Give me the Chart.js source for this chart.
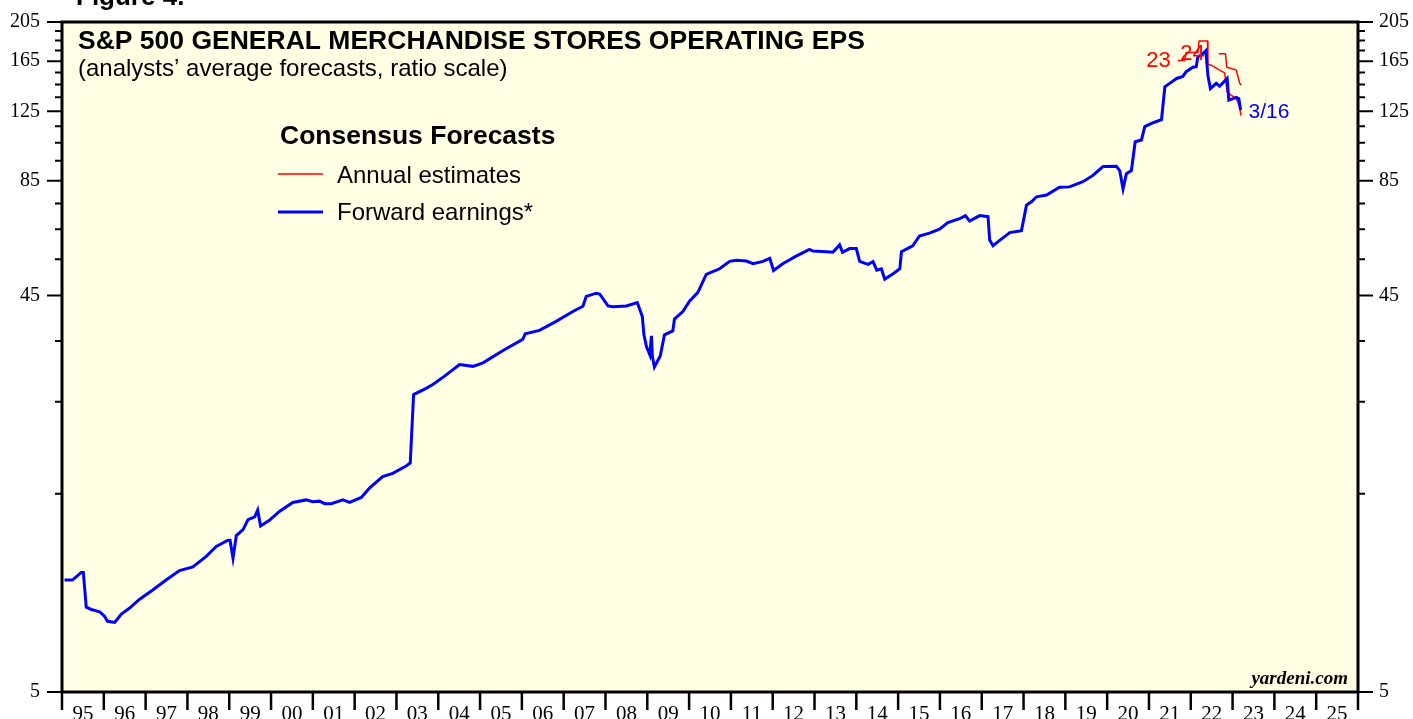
<!DOCTYPE html>
<html>
<head>
<meta charset="utf-8">
<script src="https://cdn.jsdelivr.net/npm/chart.js@4.4.0/dist/chart.umd.min.js"></script>
<style>
  html, body { margin: 0; padding: 0; background: #fff; }
  #wrap { width: 1413px; height: 719px; position: relative; overflow: hidden; }
</style>
</head>
<body>
<div id="wrap"><canvas id="chart" width="1413" height="719"></canvas></div>
<script>
// forward earnings (weekly)
const fwdYears = [
  1995.06, 1995.25, 1995.46, 1995.51, 1995.58, 1995.70, 1995.90, 1996.02, 1996.09, 1996.26,
  1996.42, 1996.61, 1996.85, 1997.17, 1997.49, 1997.81, 1998.13, 1998.45, 1998.69, 1998.97,
  1999.02, 1999.09, 1999.17, 1999.33, 1999.45, 1999.61, 1999.68, 1999.75, 1999.96, 2000.20,
  2000.52, 2000.84, 2001.00, 2001.16, 2001.28, 2001.44, 2001.72, 2001.88, 2002.16, 2002.36,
  2002.67, 2002.91, 2003.23, 2003.33, 2003.41, 2003.71, 2003.87, 2004.15, 2004.51, 2004.83,
  2005.07, 2005.55, 2006.02, 2006.08, 2006.42, 2006.82, 2007.22, 2007.46, 2007.54, 2007.78,
  2007.86, 2008.06, 2008.18, 2008.50, 2008.76, 2008.88, 2008.92, 2008.98, 2009.06, 2009.10,
  2009.12, 2009.17, 2009.31, 2009.41, 2009.61, 2009.65, 2009.85, 2010.01, 2010.21, 2010.41,
  2010.73, 2010.97, 2011.13, 2011.37, 2011.53, 2011.77, 2011.93, 2012.02, 2012.24, 2012.56,
  2012.88, 2012.96, 2013.28, 2013.44, 2013.60, 2013.67, 2013.84, 2014.00, 2014.08, 2014.28,
  2014.40, 2014.49, 2014.60, 2014.68, 2014.88, 2015.04, 2015.08, 2015.35, 2015.51, 2015.75,
  2015.99, 2016.19, 2016.47, 2016.61, 2016.71, 2016.95, 2017.15, 2017.19, 2017.27, 2017.39,
  2017.67, 2017.95, 2018.07, 2018.19, 2018.31, 2018.55, 2018.86, 2019.10, 2019.42, 2019.66,
  2019.90, 2020.22, 2020.30, 2020.38, 2020.46, 2020.58, 2020.67, 2020.82, 2020.90, 2021.10,
  2021.30, 2021.38, 2021.57, 2021.66, 2021.81, 2021.89, 2022.05, 2022.13, 2022.17, 2022.25,
  2022.36, 2022.41, 2022.47, 2022.61, 2022.69, 2022.87, 2022.91, 2023.09, 2023.15, 2023.19
];
const fwdValues = [
  9.3, 9.3, 9.7, 9.7, 8.0, 7.9, 7.8, 7.6, 7.4, 7.35,
  7.7, 7.95, 8.35, 8.8, 9.3, 9.8, 10.0, 10.6, 11.2, 11.6,
  11.6, 10.5, 11.9, 12.3, 13.0, 13.2, 13.7, 12.55, 12.95, 13.6,
  14.3, 14.5, 14.35, 14.4, 14.2, 14.2, 14.5, 14.3, 14.7, 15.5,
  16.5, 16.8, 17.5, 17.8, 26.0, 26.9, 27.5, 28.8, 30.7, 30.4,
  31.0, 33.2, 35.3, 36.4, 37.1, 39.0, 41.2, 42.4, 44.8, 45.6,
  45.4, 42.5, 42.3, 42.5, 43.3, 40.1, 36.2, 33.9, 32.4, 36.0,
  32.2, 30.3, 32.2, 36.2, 37.0, 39.5, 41.2, 43.6, 45.8, 50.6,
  52.2, 54.4, 54.7, 54.5, 53.7, 54.4, 55.3, 51.7, 53.7, 56.0,
  58.1, 57.6, 57.4, 57.2, 59.6, 57.2, 58.4, 58.4, 54.4, 53.5,
  54.3, 51.8, 52.2, 49.3, 50.8, 52.2, 57.4, 59.3, 62.6, 63.6,
  65.0, 67.4, 68.9, 70.1, 68.0, 70.1, 69.7, 61.2, 59.3, 60.7,
  63.8, 64.5, 74.3, 75.7, 77.8, 78.6, 82.0, 82.2, 84.6, 87.6,
  92.0, 92.2, 90.0, 81.3, 88.4, 90.0, 105.6, 106.6, 114.8, 117.3,
  119.3, 143.2, 147.7, 149.9, 151.6, 155.7, 159.5, 160.0, 169.0, 170.7,
  174.9, 152.4, 141.7, 145.9, 143.6, 149.9, 133.0, 135.0, 134.0, 125.9
];

// annual estimates
const est23Years = [2021.69, 2021.85, 2021.89, 2022.17, 2022.20, 2022.40, 2022.41, 2022.49, 2022.69, 2022.81, 2022.87, 2022.95, 2023.09, 2023.17, 2023.20];
const est23Values = [165.5, 165.5, 173.0, 173.0, 184.5, 184.5, 162.0, 161.4, 157.0, 154.6, 139.0, 137.0, 134.0, 128.0, 122.0];
const est24Years = [2022.67, 2022.83, 2022.86, 2023.09, 2023.17, 2023.21];
const est24Values = [172.0, 172.0, 159.5, 157.0, 145.9, 144.5];

const yearLabels = ['95', '96', '97', '98', '99', '00', '01', '02', '03', '04', '05', '06', '07', '08', '09',
  '10', '11', '12', '13', '14', '15', '16', '17', '18', '19', '20', '21', '22', '23', '24', '25'];
const majorTicks = [5, 45, 85, 125, 165, 205];
const minorTicks = [15, 25, 35, 55, 65, 75, 95, 105, 115, 135, 145, 155, 175, 185, 195];

const sans = '"Liberation Sans", Arial, sans-serif';
const serif = '"Liberation Serif", "Times New Roman", serif';

const toPoints = (xs, ys) => xs.map((x, i) => ({ x, y: ys[i] }));

const yAxis = (position, width, padding) => ({
  type: 'logarithmic',
  position,
  min: 5,
  max: 205,
  afterBuildTicks: (scale) => { scale.ticks = majorTicks.map(v => ({ value: v })); },
  afterFit: (scale) => {
    scale.width = width;
    scale.paddingTop = 0;
    scale.paddingBottom = 0;
  },
  grid: { display: false, drawTicks: false },
  border: { display: false },
  ticks: { font: { family: serif, size: 20 }, color: '#000', padding, callback: (v) => String(v) },
});

// background, frame, tick marks and text annotations
const decor = {
  id: 'decor',
  beforeDraw(chart) {
    const { ctx, chartArea: a } = chart;
    ctx.save();
    ctx.fillStyle = '#FFFFE3';
    ctx.fillRect(a.left, a.top, a.right - a.left, a.bottom - a.top);
    ctx.restore();
  },
  afterDraw(chart) {
    const { ctx, chartArea: a } = chart;
    const x = chart.scales.x, y = chart.scales.y;
    ctx.save();
    ctx.strokeStyle = '#000';

    // y tick marks on both sides
    ctx.lineWidth = 2;
    const yTick = (v, len) => {
      const py = y.getPixelForValue(v);
      ctx.beginPath();
      ctx.moveTo(a.left - len, py); ctx.lineTo(a.left, py);
      ctx.moveTo(a.right, py); ctx.lineTo(a.right + len, py);
      ctx.stroke();
    };
    majorTicks.forEach(v => yTick(v, 15));
    minorTicks.forEach(v => yTick(v, 7));

    // year tick marks
    ctx.lineWidth = 2.5;
    for (let yr = 1995; yr <= 2026; yr++) {
      const px = x.getPixelForValue(yr);
      ctx.beginPath();
      ctx.moveTo(px, a.bottom); ctx.lineTo(px, a.bottom + 18);
      ctx.stroke();
    }

    // frame
    ctx.lineWidth = 3;
    ctx.strokeRect(a.left, a.top, a.right - a.left, a.bottom - a.top);

    // texts
    ctx.fillStyle = '#000';
    ctx.textBaseline = 'alphabetic';
    ctx.textAlign = 'left';
    ctx.font = `bold 26px ${sans}`;
    ctx.fillText('Figure 4.', 76, 5);
    ctx.font = `bold 26.5px ${sans}`;
    ctx.fillText('S&P 500 GENERAL MERCHANDISE STORES OPERATING EPS', 78, 49);
    ctx.font = `24px ${sans}`;
    ctx.fillText('(analysts\u2019 average forecasts, ratio scale)', 78, 76);
    ctx.font = `bold 26.5px ${sans}`;
    ctx.fillText('Consensus Forecasts', 280, 144);
    ctx.font = `24px ${sans}`;
    ctx.fillText('Annual estimates', 337, 183);
    ctx.fillText('Forward earnings*', 337, 220);

    ctx.lineWidth = 1.5;
    ctx.strokeStyle = '#FF0000';
    ctx.beginPath(); ctx.moveTo(278, 174); ctx.lineTo(323, 174); ctx.stroke();
    ctx.lineWidth = 3;
    ctx.strokeStyle = '#0000FF';
    ctx.beginPath(); ctx.moveTo(278, 212); ctx.lineTo(323, 212); ctx.stroke();

    ctx.textAlign = 'right';
    ctx.font = `italic bold 19px ${serif}`;
    ctx.fillText('yardeni.com', 1348, 684);

    // series labels
    ctx.textBaseline = 'middle';
    ctx.font = `22px ${sans}`;
    ctx.fillStyle = '#FF0000';
    ctx.fillText('23', x.getPixelForValue(est23Years[0]) - 7, y.getPixelForValue(est23Values[0]));
    ctx.fillText('24', x.getPixelForValue(est24Years[0]) - 14, y.getPixelForValue(est24Values[0]));
    ctx.textAlign = 'left';
    ctx.font = `21px ${sans}`;
    ctx.fillStyle = '#0000FF';
    const last = fwdYears.length - 1;
    ctx.fillText('3/16', x.getPixelForValue(fwdYears[last]) + 8, y.getPixelForValue(fwdValues[last]) + 2);
    ctx.restore();
  }
};

new Chart(document.getElementById('chart'), {
  type: 'line',
  data: {
    datasets: [
      {
        label: 'Forward earnings*',
        data: toPoints(fwdYears, fwdValues),
        borderColor: '#0000FF',
        borderWidth: 3,
        pointRadius: 0,
        yAxisID: 'y',
        order: 0,
      },
      {
        label: '2023 annual estimates',
        data: toPoints(est23Years, est23Values),
        borderColor: '#FF0000',
        borderWidth: 1.5,
        pointRadius: 0,
        yAxisID: 'y',
        order: 1,
      },
      {
        label: '2024 annual estimates',
        data: toPoints(est24Years, est24Values),
        borderColor: '#FF0000',
        borderWidth: 1.5,
        pointRadius: 0,
        yAxisID: 'y',
        order: 1,
      }
    ]
  },
  options: {
    responsive: false,
    animation: false,
    devicePixelRatio: 1,
    layout: { padding: { top: 22, left: 0, right: 0, bottom: 0 } },
    plugins: { legend: { display: false }, tooltip: { enabled: false } },
    scales: {
      x: {
        type: 'linear',
        position: 'bottom',
        min: 1995,
        max: 2026,
        afterBuildTicks: (scale) => { scale.ticks = yearLabels.map((l, i) => ({ value: 1995.5 + i })); },
        afterFit: (scale) => { scale.height = 27; },
        grid: { display: false, drawTicks: false },
        border: { display: false },
        ticks: {
          font: { family: serif, size: 21 }, color: '#000', padding: 10,
          maxRotation: 0, autoSkip: false,
          callback: (v, i) => yearLabels[i],
        },
      },
      y: yAxis('left', 62, 22),
      y2: yAxis('right', 55, 21),
    }
  },
  plugins: [decor]
});
</script>
</body>
</html>
